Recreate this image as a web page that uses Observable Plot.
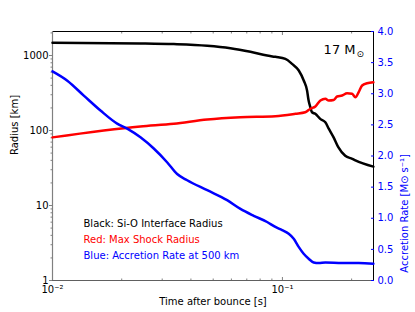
<!DOCTYPE html>
<html><head><meta charset="utf-8">
<script src="https://cdn.jsdelivr.net/npm/d3@7"></script>
<script src="https://cdn.jsdelivr.net/npm/@observablehq/plot@0.6"></script>
<style>
body{margin:0;background:#fff}
#c{position:relative;width:415px;height:312px}
#c svg{position:absolute;left:0;top:0}
</style>
</head><body><div id="c"></div>
<script>
// Black: Si-O interface radius [km]
const siT = [0.0100,0.0241,0.0337,0.0471,0.0594,0.0726,0.0858,0.0932,0.1030,0.1101,0.1178,0.1238,0.1280,0.1300,0.1323,0.1345,0.1390,0.1460,0.1537,0.1590,0.1670,0.1750,0.1876,0.2013,0.2077,0.2487];
const siR = [1480,1450,1420,1350,1250,1120,1000,960,900,774,631,464,341,251,205,175,167,143,129,106,81,60,46,42,40,33];
// Red: max shock radius [km]
const shockT = [0.0100,0.0241,0.0337,0.0471,0.0656,0.0932,0.1139,0.1257,0.1323,0.1391,0.1463,0.1538,0.1590,0.1671,0.1729,0.1818,0.1911,0.2009,0.2077,0.2147,0.2222,0.2335,0.2487];
const shockR = [81,113,123,140,150,155,167,175,195,209,251,265,251,255,284,293,314,309,278,325,398,427,440];
// Blue: accretion rate at 500 km [Msun/s]
const accT = [0.0100,0.0116,0.01368,0.01617,0.01911,0.02113,0.02413,0.02757,0.0315,0.03485,0.03853,0.0471,0.05748,0.06568,0.07504,0.0858,0.0932,0.0997,0.1065,0.1120,0.1177,0.1237,0.1301,0.1368,0.1438,0.1538,0.1818,0.2147,0.2487];
const accRate = [3.36,3.21,2.97,2.73,2.52,2.44,2.30,2.12,1.90,1.71,1.61,1.45,1.29,1.15,1.04,0.94,0.86,0.81,0.75,0.67,0.54,0.43,0.35,0.29,0.28,0.29,0.28,0.28,0.27];

const radiusTicks = [1,10,100,1000];
const radiusLabels = ["1","10","100","1000"];
const timeTicks = [0.01,0.1];
const timeLabels = ["10\u207B\u00B2","10\u207B\u00B9"];
const rateTicks = [0,0.5,1,1.5,2,2.5,3,3.5,4];
const rateLabels = ["0.0","0.5","1.0","1.5","2.0","2.5","3.0","3.5","4.0"];
const legendLines = ["Black: Si-O Interface Radius","Red: Max Shock Radius","Blue: Accretion Rate at 500 km"];
const legendColors = ["black","#ff0000","#0000ff"];

const W = 415, H = 312;
const M = {marginTop:31, marginRight:42, marginBottom:32, marginLeft:52};
const X0 = 0.01, X1 = 0.249, Y0 = 1, Y1 = 2090;
const font = {fontFamily:"DejaVu Sans", fontSize:"10px", background:"transparent", overflow:"visible"};

const minorY = [];
for (const d of [1,10,100,1000]) for (let k=2;k<=9;k++) if (d*k<=Y1) minorY.push(d*k);
const minorX = [];
for (const d of [0.01,0.1]) for (let k=2;k<=9;k++) if (d*k<=X1) minorX.push(d*k);

const rows = (T,V)=>T.map((t,i)=>({t, v:V[i]}));
const legendMarks = legendLines.map((s,i)=>Plot.text([s], {text:d=>d, frameAnchor:"bottom-left", dx:31, dy:-54+16*i,
  lineAnchor:"bottom", textAnchor:"start", fill:legendColors[i], fontSize:10}));

const p1 = Plot.plot({
  width:W, height:H, ...M, style:font,
  x:{type:"log", domain:[X0,X1]},
  y:{type:"log", domain:[Y0,Y1]},
  marks:[
    Plot.ruleY([Y1], {stroke:"black", strokeWidth:1}),
    Plot.ruleX([X1], {stroke:"black", strokeWidth:1}),
    Plot.ruleX([X0], {stroke:"#808080", strokeWidth:1.2}),
    Plot.ruleY([Y0], {stroke:"#606060", strokeWidth:1.2}),
    Plot.axisY(radiusTicks, {anchor:"left", tickSize:3, tickPadding:1, stroke:"#808080", fill:"black", label:null,
      tickFormat:d=>radiusLabels[radiusTicks.indexOf(d)]}),
    Plot.axisY(minorY, {anchor:"left", tickSize:1.5, stroke:"#808080", label:null, tickFormat:()=>""}),
    Plot.axisX(timeTicks, {anchor:"bottom", tickSize:-3, tickPadding:8, stroke:"#808080", fill:"black", label:null,
      tickFormat:d=>timeLabels[timeTicks.indexOf(d)]}),
    Plot.axisX(minorX, {anchor:"bottom", tickSize:-1.5, stroke:"#808080", label:null, tickFormat:()=>""}),
    Plot.axisX(timeTicks, {anchor:"top", tickSize:-3, stroke:"#808080", label:null, tickFormat:()=>""}),
    Plot.axisX(minorX, {anchor:"top", tickSize:-1.5, stroke:"#808080", label:null, tickFormat:()=>""}),
    Plot.line(rows(siT,siR), {x:"t", y:"v", stroke:"black", strokeWidth:2.5, curve:"monotone-x"}),
    Plot.line(rows(shockT,shockR), {x:"t", y:"v", stroke:"#ff0000", strokeWidth:2.5, curve:"monotone-x"}),
    Plot.text(["17 M"], {text:d=>d, frameAnchor:"top-right", dx:-18, dy:22.5, textAnchor:"end", lineAnchor:"bottom", fontSize:13, fill:"black"}),
    Plot.text(["\u2299"], {text:d=>d, frameAnchor:"top-right", dx:-17, dy:25, textAnchor:"start", lineAnchor:"bottom", fontSize:9, fill:"black"}),
    ...legendMarks,
    Plot.text(["Radius [km]"], {text:d=>d, frameAnchor:"left", dx:-38, dy:-1, rotate:-90, fontSize:10, fill:"black"}),
    Plot.text(["Time after bounce [s]"], {text:d=>d, frameAnchor:"bottom", dy:24, lineAnchor:"bottom", fontSize:10, fill:"black"})
  ]
});

const p2 = Plot.plot({
  width:W, height:H, ...M, style:font,
  x:{type:"log", domain:[X0,X1], axis:null},
  y:{domain:[0,4]},
  marks:[
    Plot.axisY(rateTicks, {anchor:"right", tickSize:-3, tickPadding:7, stroke:"#0000ff", fill:"#0000ff", label:null,
      tickFormat:d=>rateLabels[rateTicks.indexOf(d)]}),
    Plot.line(rows(accT,accRate), {x:"t", y:"v", stroke:"#0000ff", strokeWidth:2.5, curve:"monotone-x"}),
    Plot.text(["Accretion Rate [M\u2299 s\u207B\u00B9]"], {text:d=>d, frameAnchor:"right", dx:31, dy:-2, rotate:-90, fontSize:10, fill:"#0000ff"})
  ]
});

const c = document.getElementById("c");
c.appendChild(p1);
c.appendChild(p2);
</script>
</body></html>
